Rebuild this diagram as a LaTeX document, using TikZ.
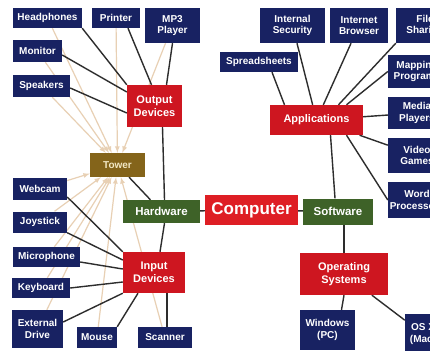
\documentclass[tikz,border=0pt]{standalone}
\usepackage{fontspec}
\setmainfont{Liberation Sans}
\usetikzlibrary{positioning,backgrounds}

\definecolor{devblue}{RGB}{24,34,98}
\definecolor{grpred}{RGB}{206,22,32}
\definecolor{topred}{RGB}{222,30,36}
\definecolor{brgreen}{RGB}{62,98,40}
\definecolor{towerbrown}{RGB}{132,100,26}
\definecolor{towertext}{RGB}{242,232,196}
\definecolor{feedtan}{RGB}{232,208,180}
\definecolor{linkgray}{RGB}{45,45,45}

\begin{document}
\begin{tikzpicture}[x=1pt,y=-1pt,
  sz/.style 2 args={minimum width=#1pt,minimum height=#2pt},
  box/.style={draw=none,align=center,text=white,inner sep=0pt,font=\bfseries\fontsize{10}{11.5}\selectfont},
  device/.style={box,fill=devblue},
  group/.style={box,fill=grpred,font=\bfseries\fontsize{11}{13}\selectfont},
  branch/.style={box,fill=brgreen,font=\bfseries\fontsize{11.5}{13}\selectfont},
  link/.style={draw=linkgray,line width=1.4pt},
  feed/.style={draw=feedtan,line width=1.2pt,-latex}]

\useasboundingbox (0,0) rectangle (430,350);
\clip (0,0) rectangle (430,350);

% output side
\node[device,sz={69}{20}] (headphones) at (47.5,18) {Headphones};
\node[device,sz={48}{20}] (printer) at (116,18) {Printer};
\node[device,sz={55}{35}] (mp3) at (172.5,25.5) {MP3\\Player};
\node[device,sz={49}{22}] (monitor) at (37.5,51) {Monitor};
\node[device,sz={57}{22}] (speakers) at (41.5,86) {Speakers};
\node[group,sz={55}{42}] (output) at (154.5,106) {Output\\Devices};

\node[box,fill=towerbrown,text=towertext,sz={55}{24}] (tower) at (117.5,165) {Tower};

% input side
\node[device,sz={54}{22}] (webcam) at (40,189) {Webcam};
\node[device,sz={54}{21}] (joystick) at (40,222) {Joystick};
\node[device,sz={67}{20}] (microphone) at (46.5,257) {Microphone};
\node[device,sz={58}{20}] (keyboard) at (41,288) {Keyboard};
\node[device,sz={51}{38}] (external) at (37.5,329) {External\\Drive};
\node[device,sz={40}{21}] (mouse) at (97,337.5) {Mouse};
\node[device,sz={54}{21}] (scanner) at (165,337.5) {Scanner};
\node[group,sz={62}{41}] (input) at (154,272.5) {Input\\Devices};

% centre row
\node[branch,sz={77}{23}] (hardware) at (161.5,211.5) {Hardware};
\node[box,fill=topred,sz={93}{30},font=\bfseries\fontsize{17}{20}\selectfont] (computer) at (251.5,210) {Computer};
\node[branch,sz={70}{26}] (software) at (338,211.5) {Software};

% software side
\node[group,sz={93}{30}] (applications) at (316.5,120) {Applications};
\node[device,sz={65}{35}] (security) at (292.5,25.5) {Internal\\Security};
\node[device,sz={58}{35}] (browser) at (359,25.5) {Internet\\Browser};
\node[device,sz={58}{35}] (sharing) at (425,25.5) {File\\Sharing};
\node[device,sz={78}{20}] (spreadsheets) at (259,62) {Spreadsheets};
\node[device,sz={58}{33}] (mapping) at (417,71.5) {Mapping\\Programs};
\node[device,sz={58}{32}] (media) at (417,113) {Media\\Players};
\node[device,sz={58}{35}] (video) at (417,155.5) {Video\\Games};
\node[device,sz={58}{36}] (word) at (417,200) {Word\\Processors};

\node[group,sz={88}{42}] (opsys) at (344,274) {Operating\\Systems};
\node[device,sz={55}{40}] (windows) at (327.5,330) {Windows\\(PC)};
\node[device,sz={36}{40}] (osx) at (423,334) {OS X\\(Mac)};

\begin{scope}[on background layer]
\fill[white] (0,0) rectangle (430,350);

% everything plugs into the tower
\foreach \dev in {headphones,printer,mp3,monitor,speakers,webcam,joystick,microphone,keyboard,external,mouse,scanner}
  \draw[feed] (\dev) -- (tower);

\draw[link] (headphones.south east) -- (output.north west);
\draw[link] ([xshift=12pt]printer.south) -- ([xshift=-3pt]output.north);
\draw[link] (mp3.south) -- ([xshift=12pt]output.north);
\draw[link] ([yshift=-4pt]monitor.east) -- ([yshift=14pt]output.west);
\draw[link] ([yshift=-2pt]speakers.east) -- ([yshift=-7pt]output.west);
\draw[link] ([xshift=8pt]output.south) -- ([xshift=3pt]hardware.north);

\draw[link] ([yshift=-8pt]webcam.east) -- (input.north west);
\draw[link] (joystick.south east) -- ([yshift=12.5pt]input.west);
\draw[link] ([yshift=-5pt]microphone.east) -- ([yshift=3.5pt]input.west);
\draw[link] (keyboard.east) -- ([yshift=-9.5pt]input.west);
\draw[link] ([yshift=7pt]external.east) -- (input.south west);
\draw[link] (mouse.north east) -- ([xshift=-16pt]input.south);
\draw[link] ([xshift=2pt]scanner.north) -- ([xshift=13pt]input.south);
\draw[link] ([xshift=6pt]input.north) -- ([xshift=3pt]hardware.south);

\draw[link] (tower) -- (hardware);
\draw[link] (hardware) -- (computer);
\draw[link] (computer) -- (software);

\draw[link] ([xshift=-3pt]software.north) -- ([xshift=14pt]applications.south);
\draw[link] (opsys.north) -- (opsys.north |- software.south);

\draw[link] ([xshift=-32pt]applications.north) -- ([xshift=13pt]spreadsheets.south);
\draw[link] (applications) -- (security);
\draw[link] (applications) -- (browser);
\draw[link] ([xshift=22pt]applications.north) -- (sharing.south west);
\draw[link] ([xshift=30pt]applications.north) -- (mapping.west);
\draw[link] (applications) -- (media);
\draw[link] (applications) -- (video);
\draw[link] ([xshift=30pt]applications.south) -- (word.west);

\draw[link] ([xshift=14pt]windows.north) -- (opsys.south);
\draw[link] (opsys) -- (osx);
\end{scope}

\end{tikzpicture}
\end{document}
